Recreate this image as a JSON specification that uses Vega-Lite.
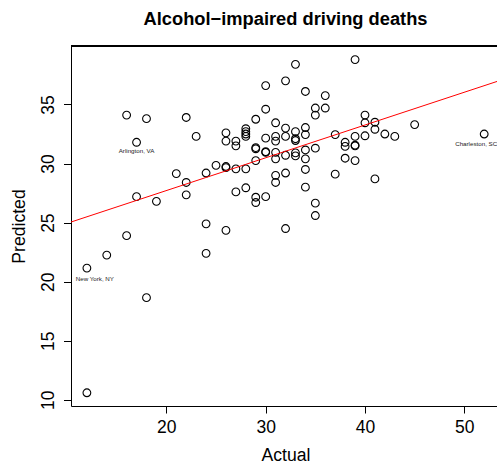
{
  "$schema": "https://vega.github.io/schema/vega-lite/v6.json",
  "width": 426,
  "height": 360,
  "autosize": {"type": "none"},
  "padding": {"left": 71, "top": 46, "right": 0, "bottom": 59},
  "background": "white",
  "config": {
    "view": {"stroke": null},
    "font": "Liberation Sans"
  },
  "title": {
    "text": "Alcohol−impaired driving deaths",
    "font": "Liberation Sans",
    "fontSize": 18.3,
    "fontWeight": "bold",
    "color": "black",
    "anchor": "middle",
    "baseline": "alphabetic",
    "offset": 2,
    "dx": 1.5
  },
  "datasets": {
    "pts": [
      {"actual": 12, "predicted": 10.6}, {"actual": 12, "predicted": 21.15}, {"actual": 14, "predicted": 22.25},
      {"actual": 16, "predicted": 23.9}, {"actual": 18, "predicted": 18.65}, {"actual": 24, "predicted": 22.4},
      {"actual": 24, "predicted": 24.9}, {"actual": 26, "predicted": 24.35}, {"actual": 32, "predicted": 24.5},
      {"actual": 35, "predicted": 25.6}, {"actual": 35, "predicted": 26.65}, {"actual": 17, "predicted": 27.2},
      {"actual": 19, "predicted": 26.8}, {"actual": 22, "predicted": 27.35}, {"actual": 22, "predicted": 28.4},
      {"actual": 21, "predicted": 29.15}, {"actual": 24, "predicted": 29.2}, {"actual": 27, "predicted": 27.6},
      {"actual": 28, "predicted": 27.95}, {"actual": 29, "predicted": 27.15}, {"actual": 29, "predicted": 26.7},
      {"actual": 30, "predicted": 27.2}, {"actual": 31, "predicted": 29.0}, {"actual": 31, "predicted": 28.4},
      {"actual": 32, "predicted": 29.2}, {"actual": 34, "predicted": 28.0}, {"actual": 34, "predicted": 29.5},
      {"actual": 37, "predicted": 29.1}, {"actual": 41, "predicted": 28.7}, {"actual": 25, "predicted": 29.85},
      {"actual": 26, "predicted": 29.75}, {"actual": 26, "predicted": 29.65}, {"actual": 27, "predicted": 29.55},
      {"actual": 28, "predicted": 29.55}, {"actual": 29, "predicted": 30.25}, {"actual": 30, "predicted": 30.95},
      {"actual": 30, "predicted": 31.0}, {"actual": 31, "predicted": 30.95}, {"actual": 31, "predicted": 30.4},
      {"actual": 32, "predicted": 30.7}, {"actual": 33, "predicted": 30.9}, {"actual": 33, "predicted": 30.65},
      {"actual": 34, "predicted": 31.15}, {"actual": 34, "predicted": 30.4}, {"actual": 35, "predicted": 31.3},
      {"actual": 29, "predicted": 31.35}, {"actual": 29, "predicted": 31.25}, {"actual": 30, "predicted": 32.15},
      {"actual": 31, "predicted": 32.3}, {"actual": 31, "predicted": 31.9}, {"actual": 32, "predicted": 32.3},
      {"actual": 32, "predicted": 33.0}, {"actual": 33, "predicted": 32.7}, {"actual": 33, "predicted": 32.1},
      {"actual": 33, "predicted": 31.95}, {"actual": 34, "predicted": 33.05}, {"actual": 34, "predicted": 32.45},
      {"actual": 26, "predicted": 32.6}, {"actual": 26, "predicted": 31.9}, {"actual": 27, "predicted": 31.9},
      {"actual": 27, "predicted": 31.5}, {"actual": 28, "predicted": 32.95}, {"actual": 28, "predicted": 32.7},
      {"actual": 28, "predicted": 32.5}, {"actual": 28, "predicted": 32.3}, {"actual": 29, "predicted": 33.75},
      {"actual": 31, "predicted": 33.45}, {"actual": 30, "predicted": 34.6}, {"actual": 30, "predicted": 36.6},
      {"actual": 32, "predicted": 37.0}, {"actual": 33, "predicted": 38.4}, {"actual": 34, "predicted": 36.1},
      {"actual": 36, "predicted": 35.75}, {"actual": 35, "predicted": 34.7}, {"actual": 36, "predicted": 34.7},
      {"actual": 35, "predicted": 34.1}, {"actual": 39, "predicted": 38.8}, {"actual": 40, "predicted": 34.1},
      {"actual": 40, "predicted": 33.45}, {"actual": 41, "predicted": 33.5}, {"actual": 41, "predicted": 32.9},
      {"actual": 45, "predicted": 33.3}, {"actual": 37, "predicted": 32.45}, {"actual": 39, "predicted": 32.3},
      {"actual": 40, "predicted": 32.35}, {"actual": 42, "predicted": 32.5}, {"actual": 43, "predicted": 32.3},
      {"actual": 38, "predicted": 31.8}, {"actual": 38, "predicted": 31.45}, {"actual": 39, "predicted": 31.5},
      {"actual": 39, "predicted": 31.55}, {"actual": 38, "predicted": 30.45}, {"actual": 39, "predicted": 30.25},
      {"actual": 52, "predicted": 32.5}, {"actual": 16, "predicted": 34.1}, {"actual": 18, "predicted": 33.8},
      {"actual": 22, "predicted": 33.9}, {"actual": 23, "predicted": 32.3}, {"actual": 17, "predicted": 31.8}
    ],
    "fit": [
      {"actual": 10.4, "predicted": 25.05},
      {"actual": 53.29, "predicted": 36.95}
    ],
    "labels": [
      {"actual": 17, "predicted": 31.8, "label": "Arlington, VA"},
      {"actual": 12, "predicted": 21.15, "label": "New York, NY"},
      {"actual": 52, "predicted": 32.5, "label": "Charleston, SC"}
    ]
  },
  "layer": [
    {
      "data": {"name": "pts"},
      "mark": {"type": "point", "shape": "circle", "filled": false, "stroke": "black", "strokeWidth": 1.1, "size": 60, "opacity": 1},
      "encoding": {
        "x": {
          "field": "actual", "type": "quantitative",
          "scale": {"domain": [10.4, 53.29], "nice": false, "zero": false},
          "axis": {
            "values": [20, 30, 40, 50],
            "grid": false,
            "domainColor": "black", "domainWidth": 1,
            "tickColor": "black", "tickWidth": 1, "tickSize": 7,
            "labelFont": "Liberation Sans", "labelFontSize": 17.5, "labelColor": "black",
            "labelPadding": 19, "labelBaseline": "alphabetic", "labelOverlap": false, "labelFlush": false,
            "title": "Actual",
            "titleFont": "Liberation Sans", "titleFontSize": 17.6, "titleFontWeight": "normal", "titleColor": "black",
            "titleBaseline": "alphabetic", "titleY": 54, "titleX": 214.5, "titleAlign": "center"
          }
        },
        "y": {
          "field": "predicted", "type": "quantitative",
          "scale": {"domain": [9.48, 39.95], "nice": false, "zero": false},
          "axis": {
            "values": [10, 15, 20, 25, 30, 35],
            "grid": false,
            "domainColor": "black", "domainWidth": 1,
            "tickColor": "black", "tickWidth": 1, "tickSize": 7.5,
            "labelFont": "Liberation Sans", "labelFontSize": 17.5, "labelColor": "black",
            "labelAngle": -90, "labelAlign": "center", "labelBaseline": "alphabetic",
            "labelPadding": 10.5, "labelOverlap": false, "labelFlush": false,
            "title": "Predicted",
            "titleFont": "Liberation Sans", "titleFontSize": 17.6, "titleFontWeight": "normal", "titleColor": "black",
            "titleAngle": -90, "titleAlign": "center", "titleBaseline": "alphabetic",
            "titleX": -47, "titleY": 180
          }
        }
      }
    },
    {
      "data": {"name": "fit"},
      "mark": {"type": "line", "color": "#ff0000", "strokeWidth": 1},
      "encoding": {
        "x": {"field": "actual", "type": "quantitative"},
        "y": {"field": "predicted", "type": "quantitative"}
      }
    },
    {
      "data": {"name": "pts"},
      "mark": {"type": "rule", "color": "black", "strokeWidth": 1},
      "encoding": {"y": {"datum": 39.95}}
    },
    {
      "data": {"name": "labels"},
      "transform": [{"filter": "datum.label === 'Arlington, VA'"}],
      "mark": {"type": "text", "font": "Liberation Sans", "fontSize": 6.2, "color": "#222222", "align": "center", "baseline": "alphabetic", "dy": 10.5},
      "encoding": {
        "x": {"field": "actual", "type": "quantitative"},
        "y": {"field": "predicted", "type": "quantitative"},
        "text": {"field": "label"}
      }
    },
    {
      "data": {"name": "labels"},
      "transform": [{"filter": "datum.label === 'New York, NY'"}],
      "mark": {"type": "text", "font": "Liberation Sans", "fontSize": 6.2, "color": "#222222", "align": "center", "baseline": "alphabetic", "dy": 12.5, "dx": 8},
      "encoding": {
        "x": {"field": "actual", "type": "quantitative"},
        "y": {"field": "predicted", "type": "quantitative"},
        "text": {"field": "label"}
      }
    },
    {
      "data": {"name": "labels"},
      "transform": [{"filter": "datum.label === 'Charleston, SC'"}],
      "mark": {"type": "text", "font": "Liberation Sans", "fontSize": 6.2, "color": "#222222", "align": "center", "baseline": "alphabetic", "dy": 11.5, "dx": -8},
      "encoding": {
        "x": {"field": "actual", "type": "quantitative"},
        "y": {"field": "predicted", "type": "quantitative"},
        "text": {"field": "label"}
      }
    }
  ]
}
